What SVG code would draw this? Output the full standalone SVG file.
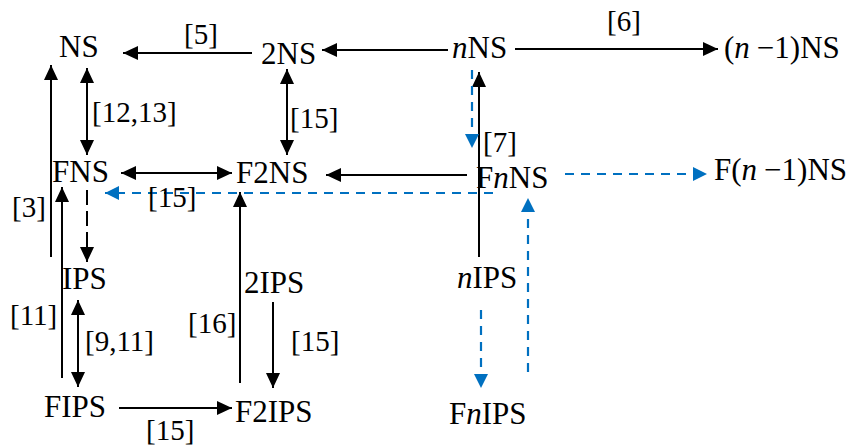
<svg xmlns="http://www.w3.org/2000/svg" width="858" height="448" viewBox="0 0 858 448">
<style>
text{font-family:"Liberation Serif","Times New Roman",serif;font-size:31px;fill:#000}
.lb{font-size:29px}
.i{font-style:italic}
.k{stroke:#000;stroke-width:2;fill:none}
.kd{stroke:#000;stroke-width:2;fill:none;stroke-dasharray:15 6}
.b{stroke:#0070C0;stroke-width:2.2;fill:none;stroke-dasharray:9 7}
.ka{marker-end:url(#ak)}
.kk{marker-start:url(#ak);marker-end:url(#ak)}
.ba{marker-end:url(#ab)}
</style>
<defs>
<marker id="ak" markerUnits="userSpaceOnUse" markerWidth="15" markerHeight="14" refX="15" refY="7" orient="auto-start-reverse"><path d="M0,0 L15,7 L0,14 z" fill="#000"/></marker>
<marker id="ab" markerUnits="userSpaceOnUse" markerWidth="14" markerHeight="14" refX="14" refY="7" orient="auto-start-reverse"><path d="M0,0 L14,7 L0,14 z" fill="#0070C0"/></marker>
</defs>
<g id="connectors">
<line class="k ka" x1="448" y1="50" x2="322" y2="50"/>
<line class="k ka" x1="252" y1="53" x2="123" y2="53"/>
<line class="k ka" x1="515" y1="49" x2="718" y2="49"/>
<line class="k kk" x1="87" y1="68" x2="87" y2="155"/>
<line class="k ka" x1="51" y1="257" x2="51" y2="65"/>
<line class="k kk" x1="287" y1="69" x2="287" y2="155"/>
<line class="k kk" x1="121" y1="173" x2="232" y2="173"/>
<line class="k ka" x1="467" y1="175" x2="326" y2="175"/>
<line class="k ka" x1="479" y1="257" x2="479" y2="72"/>
<line class="b ba" x1="472" y1="70" x2="472" y2="148"/>
<line class="b ba" x1="565" y1="174" x2="707" y2="174"/>
<line class="b ba" x1="493" y1="193" x2="105" y2="193"/>
<line class="b ba" x1="528" y1="372" x2="528" y2="198"/>
<line class="b ba" x1="481" y1="310" x2="481" y2="388"/>
<line class="k ka" x1="62" y1="378" x2="62" y2="187"/>
<line class="kd ka" x1="87" y1="190" x2="87" y2="262"/>
<line class="k kk" x1="78" y1="300" x2="78" y2="387"/>
<line class="k ka" x1="119" y1="408" x2="232" y2="408"/>
<line class="k ka" x1="240" y1="383" x2="240" y2="192"/>
<line class="k ka" x1="273" y1="302" x2="273" y2="388"/>
</g>
<g id="labels">
<text class="lb" x="184" y="44">[5]</text>
<text class="lb" x="607" y="31">[6]</text>
<text class="lb" x="92" y="122">[12,13]</text>
<text class="lb" x="290" y="128">[15]</text>
<text class="lb" x="148" y="207">[15]</text>
<text class="lb" x="483" y="152">[7]</text>
<text class="lb" x="12" y="217">[3]</text>
<text class="lb" x="10" y="325">[11]</text>
<text class="lb" x="85" y="351">[9,11]</text>
<text class="lb" x="188" y="333">[16]</text>
<text class="lb" x="291" y="351">[15]</text>
<text class="lb" x="146" y="440">[15]</text>
</g>
<g id="NS"><text x="59" y="57">NS</text></g>
<g id="2NS"><text x="261" y="64">2NS</text></g>
<g id="nNS"><text x="452" y="58"><tspan class="i">n</tspan>NS</text></g>
<g id="n-1NS"><text x="724" y="58">(<tspan class="i">n</tspan><tspan dx="7">−1)NS</tspan></text></g>
<g id="FNS"><text x="52" y="182">FNS</text></g>
<g id="F2NS"><text x="236" y="183">F2NS</text></g>
<g id="FnNS"><text x="476" y="188">F<tspan class="i">n</tspan>NS</text></g>
<g id="Fn-1NS"><text x="714" y="180">F(<tspan class="i">n</tspan><tspan dx="7">−1)NS</tspan></text></g>
<g id="IPS"><text x="62" y="289">IPS</text></g>
<g id="2IPS"><text x="244" y="293">2IPS</text></g>
<g id="nIPS"><text x="457" y="288"><tspan class="i">n</tspan>IPS</text></g>
<g id="FIPS"><text x="44" y="417">FIPS</text></g>
<g id="F2IPS"><text x="235" y="422">F2IPS</text></g>
<g id="FnIPS"><text x="449" y="424">F<tspan class="i">n</tspan>IPS</text></g>
</svg>
